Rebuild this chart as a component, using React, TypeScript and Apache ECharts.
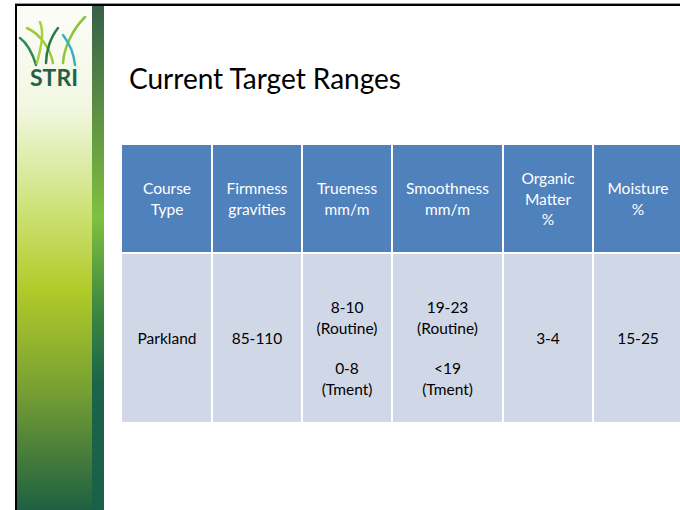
import React, { useEffect, useRef } from "react";
import * as echarts from "echarts";

const title = "Current Target Ranges";
const logoText = "STRI";
const headers = [
  "Course\nType",
  "Firmness\ngravities",
  "Trueness\nmm/m",
  "Smoothness\nmm/m",
  "Organic\nMatter\n%",
  "Moisture\n%",
];
const rowValues = [
  "Parkland",
  "85-110",
  "8-10\n(Routine)\n\n0-8\n(Tment)",
  "19-23\n(Routine)\n\n<19\n(Tment)",
  "3-4",
  "15-25",
];

const FONT = "Lato, 'Open Sans', sans-serif";

export default function App() {
  const ref = useRef<HTMLDivElement>(null);
  useEffect(() => {
    if (!ref.current) return;
    const chart = echarts.init(ref.current, null, { renderer: "svg" });

    const colEdges = [122, 212, 302, 392, 503, 593, 684];
    const headTop = 145, headBot = 252, bodyTop = 254, bodyBot = 422;

    const els: any[] = [];
    // left panel
    els.push({
      type: "rect",
      shape: { x: 17, y: 6, width: 75, height: 504 },
      style: {
        fill: new echarts.graphic.LinearGradient(0, 0, 0, 1, [
          { offset: 0, color: "#fcfdf8" },
          { offset: 0.2, color: "#f2f7e2" },
          { offset: 0.4, color: "#cfe27a" },
          { offset: 0.56, color: "#b2cb2a" },
          { offset: 0.76, color: "#78a032" },
          { offset: 1, color: "#1e6042" },
        ]),
      },
      silent: true,
    });
    els.push({
      type: "rect",
      shape: { x: 92, y: 6, width: 12, height: 504 },
      style: {
        fill: new echarts.graphic.LinearGradient(0, 0, 0, 1, [
          { offset: 0, color: "#386048" },
          { offset: 0.42, color: "#80c040" },
          { offset: 0.6, color: "#3f8840" },
          { offset: 0.75, color: "#1c6448" },
          { offset: 1, color: "#1a6048" },
        ]),
      },
    });
    // frame
    els.push({ type: "rect", shape: { x: 15, y: 4, width: 665, height: 2 }, style: { fill: "#000" } });
    els.push({ type: "rect", shape: { x: 15, y: 3, width: 665, height: 1 }, style: { fill: "#999" } });
    els.push({ type: "rect", shape: { x: 15, y: 4, width: 2, height: 506 }, style: { fill: "#000" } });

    // logo blades
    const blades = [
      { p: [[20, 38], [28, 44], [33, 55], [36, 65]], c: "#2f8a5a" },
      { p: [[27, 28], [40, 34], [50, 48], [53, 63]], c: "#9cc83a" },
      { p: [[58, 28], [50, 38], [46, 52], [46, 63]], c: "#2a7850" },
      { p: [[85, 17], [72, 30], [64, 48], [63, 63]], c: "#8cc43c" },
      { p: [[63, 35], [70, 44], [74, 55], [75, 65]], c: "#3ab0c0" },
      { p: [[40, 22], [45, 35], [40, 50], [37, 63]], c: "#a8d040" },
    ];
    blades.forEach((b) => {
      els.push({
        type: "bezierCurve",
        shape: {
          x1: b.p[0][0], y1: b.p[0][1],
          cpx1: b.p[1][0], cpy1: b.p[1][1],
          cpx2: b.p[2][0], cpy2: b.p[2][1],
          x2: b.p[3][0], y2: b.p[3][1],
        },
        style: { stroke: b.c, lineWidth: 2.5, fill: null, lineCap: "round" },
      });
    });
    els.push({
      type: "text",
      x: 54, y: 77,
      style: {
        text: logoText,
        fill: "#246048",
        font: `bold 23px ${FONT}`,
        textAlign: "center",
        textVerticalAlign: "middle",
      },
    });

    // title
    els.push({
      type: "text",
      x: 129, y: 78,
      style: {
        text: title,
        fill: "#000",
        font: `28px ${FONT}`,
        textAlign: "left",
        textVerticalAlign: "middle",
      },
    });

    // table
    for (let i = 0; i < headers.length; i++) {
      const x0 = colEdges[i] + (i === 0 ? 0 : 1);
      const x1 = colEdges[i + 1] - 1;
      els.push({
        type: "rect",
        shape: { x: x0, y: headTop, width: x1 - x0 + (i === headers.length - 1 ? 1 : 0), height: headBot - headTop },
        style: { fill: "#4f81bd" },
      });
      els.push({
        type: "rect",
        shape: { x: x0, y: bodyTop, width: x1 - x0 + (i === headers.length - 1 ? 1 : 0), height: bodyBot - bodyTop },
        style: { fill: "#d0d8e8" },
      });
      const cx = (colEdges[i] + colEdges[i + 1]) / 2;
      const hasCut = i === headers.length - 1;
      els.push({
        type: "text",
        x: hasCut ? 638 : cx,
        y: (headTop + headBot) / 2,
        style: {
          text: headers[i],
          fill: "#fff",
          font: `15.5px ${FONT}`,
          lineHeight: 20.5,
          textAlign: "center",
          textVerticalAlign: "middle",
        },
      });
      const multi = rowValues[i].indexOf("\n") >= 0;
      els.push({
        type: "text",
        x: hasCut ? 638 : cx,
        y: (bodyTop + bodyBot) / 2 + (multi ? 10 : 0),
        style: {
          text: rowValues[i],
          fill: "#000",
          font: `15.5px ${FONT}`,
          lineHeight: 20.3,
          textAlign: "center",
          textVerticalAlign: "middle",
        },
      });
    }

    chart.setOption({
      animation: false,
      backgroundColor: "#fff",
      graphic: { elements: els },
    });
    return () => chart.dispose();
  }, []);
  return <div ref={ref} style={{ width: 680, height: 510, position: "absolute", left: 0, top: 0 }} />;
}
